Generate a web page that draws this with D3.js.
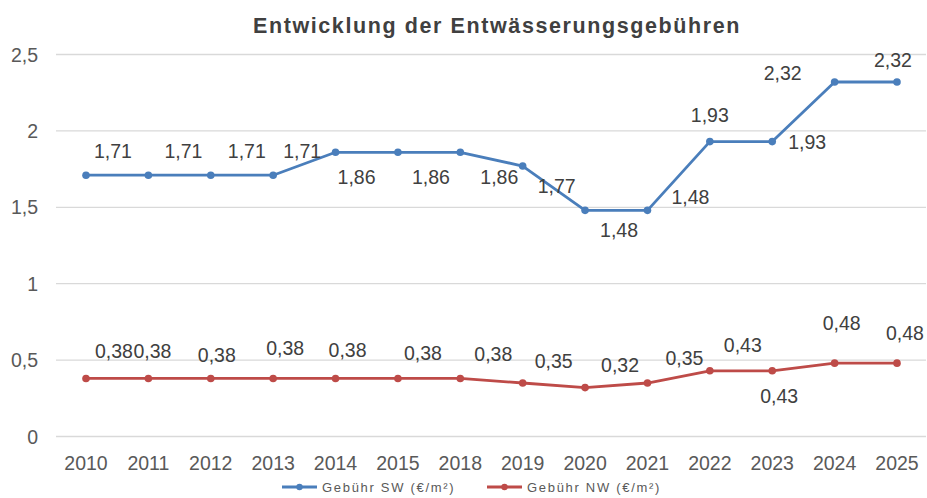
<!DOCTYPE html>
<html>
<head>
<meta charset="utf-8">
<script src="https://cdn.jsdelivr.net/npm/d3@7"></script>
<style>
  body { margin: 0; background: #fff; }
  svg { display: block; font-family: "Liberation Sans", Arial, sans-serif; }
</style>
</head>
<body>
<svg id="chart" width="927" height="498"></svg>
<script>
// data
var years = ["2010", "2011", "2012", "2013", "2014", "2015", "2018", "2019", "2020", "2021", "2022", "2023", "2024", "2025"];
var gebuehrSW = [1.71, 1.71, 1.71, 1.71, 1.86, 1.86, 1.86, 1.77, 1.48, 1.48, 1.93, 1.93, 2.32, 2.32];
var gebuehrNW = [0.38, 0.38, 0.38, 0.38, 0.38, 0.38, 0.38, 0.35, 0.32, 0.35, 0.43, 0.43, 0.48, 0.48];
var yTicks = [0, 0.5, 1, 1.5, 2, 2.5];

// label placement (offset of the label centre from its point), as Excel put them
var swLabelOffset = [[27, -24], [35, -24], [36, -24], [29, -24], [21, 25], [33, 25], [39, 25],
                     [34, 20], [34, 20], [43, -13], [0, -27], [35, 0], [-52, -9], [-4, -22]];
var nwLabelOffset = [[28, -27], [4, -27], [6, -23], [12, -30], [12, -28], [25, -25], [33, -24],
                     [31, -22], [35, -23], [37, -25], [33, -26], [7, 25], [7, -40], [8, -30]];

var svg = d3.select("#chart");
var fmt = function (v) { return String(v).replace(".", ","); };

var x = d3.scalePoint().domain(years).range([86, 897]);
var y = d3.scaleLinear().domain([0, 2.5]).range([436.5, 54.5]);

// gridlines
svg.append("g").selectAll("line")
    .data(yTicks)
    .enter().append("line")
    .attr("x1", 56).attr("x2", 926)
    .attr("y1", function (d) { return y(d); })
    .attr("y2", function (d) { return y(d); })
    .attr("stroke", "#d9d9d9")
    .attr("stroke-width", 1.3);

// y axis labels
svg.append("g").selectAll("text")
    .data(yTicks)
    .enter().append("text")
    .attr("x", 38)
    .attr("y", function (d) { return y(d) + 7; })
    .attr("text-anchor", "end")
    .attr("font-size", 19.5)
    .attr("fill", "#595959")
    .text(fmt);

// x axis labels
svg.append("g").selectAll("text")
    .data(years)
    .enter().append("text")
    .attr("x", function (d) { return x(d); })
    .attr("y", 470)
    .attr("text-anchor", "middle")
    .attr("font-size", 19.5)
    .attr("fill", "#595959")
    .text(function (d) { return d; });

// title
svg.append("text")
    .attr("x", 497)
    .attr("y", 33)
    .attr("text-anchor", "middle")
    .attr("font-size", 21.5)
    .attr("font-weight", "bold")
    .attr("letter-spacing", 1.6)
    .attr("fill", "#404040")
    .text("Entwicklung  der Entwässerungsgebühren");

var series = [
    { values: gebuehrSW, color: "#4a7ebb", offsets: swLabelOffset, name: "Gebühr SW (€/m²)" },
    { values: gebuehrNW, color: "#be4b48", offsets: nwLabelOffset, name: "Gebühr NW (€/m²)" }
];

var line = d3.line()
    .x(function (d, i) { return x(years[i]); })
    .y(function (d) { return y(d); });

series.forEach(function (s) {
    svg.append("path")
        .datum(s.values)
        .attr("d", line)
        .attr("fill", "none")
        .attr("stroke", s.color)
        .attr("stroke-width", 2.8)
        .attr("stroke-linejoin", "round");

    svg.append("g").selectAll("circle")
        .data(s.values)
        .enter().append("circle")
        .attr("cx", function (d, i) { return x(years[i]); })
        .attr("cy", function (d) { return y(d); })
        .attr("r", 3.8)
        .attr("fill", s.color);

    svg.append("g").selectAll("text")
        .data(s.values)
        .enter().append("text")
        .attr("x", function (d, i) { return x(years[i]) + s.offsets[i][0]; })
        .attr("y", function (d, i) { return y(d) + s.offsets[i][1] + 7; })
        .attr("text-anchor", "middle")
        .attr("font-size", 19.5)
        .attr("fill", "#404040")
        .text(fmt);
});

// legend
var legend = svg.append("g").selectAll("g")
    .data(series)
    .enter().append("g")
    .attr("transform", function (d, i) { return "translate(" + (282 + i * 205) + ",487)"; });

legend.append("line")
    .attr("x1", 0).attr("x2", 35)
    .attr("stroke", function (d) { return d.color; })
    .attr("stroke-width", 3);
legend.append("circle")
    .attr("cx", 17.5).attr("r", 3.2)
    .attr("fill", function (d) { return d.color; });
legend.append("text")
    .attr("x", 40)
    .attr("y", 4.5)
    .attr("font-size", 13)
    .attr("letter-spacing", 1.7)
    .attr("fill", "#595959")
    .text(function (d) { return d.name; });
</script>
</body>
</html>
